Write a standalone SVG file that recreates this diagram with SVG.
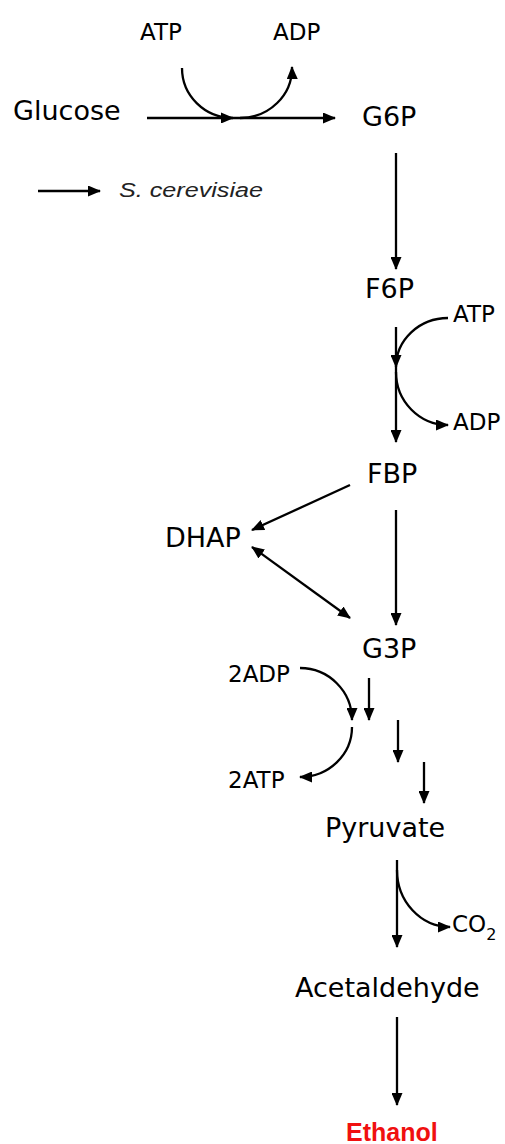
<svg xmlns="http://www.w3.org/2000/svg" width="505" height="1144" viewBox="0 0 505 1144">
<defs>
<style>
.n{font-family:"DejaVu Sans",sans-serif;font-size:27px;fill:#000}
.s{font-family:"DejaVu Sans",sans-serif;font-size:23px;fill:#000}
.e{font-family:"Liberation Sans",Arial,sans-serif;font-size:25px;font-weight:bold;fill:#f01010}
.i{font-family:"Liberation Sans",Arial,sans-serif;font-size:20px;font-style:italic;fill:#222}
.c path,.c line{stroke:#000;stroke-width:2.3;fill:none}
</style>
<marker id="ah" viewBox="0 0 13 11" refX="12" refY="5.5" markerWidth="13" markerHeight="11" markerUnits="userSpaceOnUse" orient="auto-start-reverse">
<path d="M0,0 L13,5.5 L0,11 Z" fill="#000"/>
</marker>
</defs>
<rect width="505" height="1144" fill="#fff"/>
<g id="connectors" class="c">
<line x1="147" y1="118" x2="335" y2="118" marker-end="url(#ah)"/>
<path d="M182,68 A51,50 0 0 0 233,118" marker-end="url(#ah)"/>
<path d="M240,118 A52,50 0 0 0 292,67" marker-end="url(#ah)"/>
<line x1="38" y1="191" x2="100" y2="191" marker-end="url(#ah)"/>
<line x1="396" y1="153" x2="396" y2="269" marker-end="url(#ah)"/>
<line x1="396" y1="327" x2="396" y2="442" marker-end="url(#ah)"/>
<path d="M448,318 A52,49 0 0 0 396,367" marker-end="url(#ah)"/>
<path d="M396,372 A52,53 0 0 0 448,425" marker-end="url(#ah)"/>
<line x1="350" y1="485" x2="252" y2="530" marker-end="url(#ah)"/>
<line x1="252" y1="547" x2="350" y2="618" marker-start="url(#ah)" marker-end="url(#ah)"/>
<line x1="396" y1="510" x2="396" y2="625" marker-end="url(#ah)"/>
<path d="M300,668 A52,52 0 0 1 352,720" marker-end="url(#ah)"/>
<path d="M352,727 A52,50 0 0 1 300,777" marker-end="url(#ah)"/>
<line x1="369" y1="678" x2="369" y2="720" marker-end="url(#ah)"/>
<line x1="398" y1="720" x2="398" y2="762" marker-end="url(#ah)"/>
<line x1="424" y1="762" x2="424" y2="803" marker-end="url(#ah)"/>
<line x1="397" y1="860" x2="397" y2="947" marker-end="url(#ah)"/>
<path d="M397,870 A53,57 0 0 0 450,927" marker-end="url(#ah)"/>
<line x1="397" y1="1017" x2="397" y2="1105" marker-end="url(#ah)"/>
</g>
<g id="glucose"><text class="n" x="13" y="120">Glucose</text></g>
<g id="atp1"><text class="s" x="140" y="40">ATP</text></g>
<g id="adp1"><text class="s" x="273" y="40">ADP</text></g>
<g id="g6p"><text class="n" x="362" y="126">G6P</text></g>
<g id="legend"><text class="i" x="119" y="197" textLength="144" lengthAdjust="spacingAndGlyphs">S. cerevisiae</text></g>
<g id="f6p"><text class="n" x="365" y="298">F6P</text></g>
<g id="atp2"><text class="s" x="453" y="322">ATP</text></g>
<g id="adp2"><text class="s" x="453" y="430">ADP</text></g>
<g id="fbp"><text class="n" x="367" y="483">FBP</text></g>
<g id="dhap"><text class="n" x="165" y="547">DHAP</text></g>
<g id="g3p"><text class="n" x="362" y="658">G3P</text></g>
<g id="adp3"><text class="s" x="228" y="682">2ADP</text></g>
<g id="atp3"><text class="s" x="228" y="788">2ATP</text></g>
<g id="pyruvate"><text class="n" x="325" y="837">Pyruvate</text></g>
<g id="co2"><text class="s" x="452" y="932">CO<tspan font-size="16" dy="8">2</tspan></text></g>
<g id="acetaldehyde"><text class="n" x="295" y="997">Acetaldehyde</text></g>
<g id="ethanol"><text class="e" x="346" y="1141">Ethanol</text></g>
</svg>
